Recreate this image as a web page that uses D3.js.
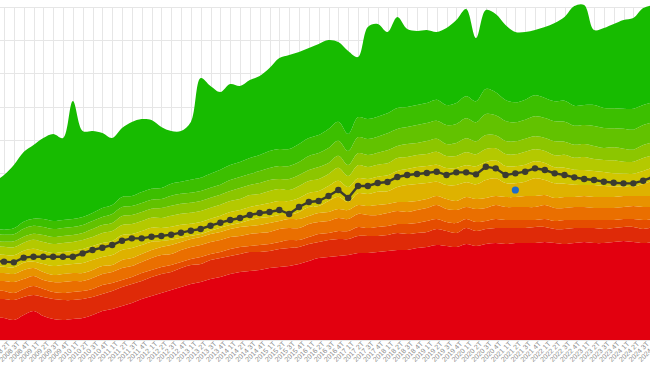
<!DOCTYPE html>
<meta charset="utf-8">
<style>
body { margin: 0; background: #fff; }
svg { display: block; font-family: "Open Sans", "DejaVu Sans", sans-serif; }
.grid line { stroke: #e6e6e6; shape-rendering: crispEdges; }
.grid path { stroke-width: 0; }
.xaxis path, .xaxis line { display: none; }
.xaxis text { font-size: 7px; fill: #8c8c8c; }
.line { fill: none; stroke: #3b3b30; stroke-width: 2.4px; }
</style>
<svg width="650" height="366"></svg>
<script src="https://d3js.org/d3.v7.min.js"></script>
<script>

// quarters 2008 1T .. 2024 4T
var years = d3.range(2008, 2025);
var quarters = [];
years.forEach(function(y) { [1, 2, 3, 4].forEach(function(q) { quarters.push(y + " " + q + "T"); }); });

var colors = ["#e2000f", "#df2a08", "#e54d00", "#ea6f00", "#e89200", "#deb200",
              "#d0c600", "#b4c900", "#8cc600", "#62c200", "#3cbf00", "#17bb00"];

var s0 = [6.6, 6.6, 6.0, 7.5, 8.7, 7.2, 6.3, 6.0, 6.3, 6.6,
  7.5, 8.7, 9.3, 10.2, 11.1, 12.3, 13.2, 14.1, 15.0, 15.9,
  16.8, 17.4, 18.3, 18.9, 19.8, 20.4, 20.7, 21.0, 21.6, 21.9,
  22.2, 22.8, 23.7, 24.6, 24.9, 25.2, 25.5, 26.1, 26.1, 26.4,
  26.7, 27.0, 27.0, 27.6, 27.9, 28.5, 28.2, 27.9, 28.8, 28.2,
  28.8, 29.1, 28.8, 29.1, 29.1, 29.1, 29.4, 29.1, 28.8, 29.1,
  29.4, 29.1, 29.1, 29.4, 29.7, 29.4, 29.1, 29.4];
var s1 = [5.7, 5.7, 6.0, 5.4, 4.8, 5.7, 6.0, 6.0, 5.7, 5.7,
  5.4, 5.1, 5.4, 5.7, 5.7, 5.4, 5.7, 5.7, 5.4, 5.7,
  5.7, 5.4, 5.7, 5.7, 5.4, 5.4, 5.7, 5.4, 5.1, 5.4,
  5.4, 5.1, 5.1, 4.8, 5.1, 5.1, 4.8, 5.1, 5.1, 4.8,
  4.8, 5.1, 4.8, 4.5, 4.5, 4.8, 4.5, 4.2, 4.8, 4.5,
  4.5, 4.5, 4.8, 4.5, 4.5, 4.8, 4.5, 4.2, 4.5, 4.5,
  4.2, 4.5, 4.2, 4.2, 4.2, 4.5, 4.2, 4.5];
var s2 = [2.4, 2.4, 2.1, 2.4, 2.7, 2.4, 2.1, 2.1, 2.4, 2.4,
  2.4, 2.7, 2.4, 2.1, 2.1, 2.4, 2.1, 2.1, 2.1, 1.8,
  1.8, 2.1, 1.8, 1.8, 2.1, 2.1, 1.8, 2.1, 2.1, 2.1,
  2.4, 2.1, 2.1, 2.4, 2.1, 2.4, 2.4, 2.7, 2.4, 2.7,
  2.7, 2.7, 3.0, 3.0, 3.3, 3.0, 2.7, 3.0, 2.7, 2.7,
  2.4, 2.7, 2.4, 2.4, 2.4, 2.1, 2.4, 2.4, 2.7, 2.4,
  2.4, 2.4, 2.7, 2.4, 2.4, 2.4, 2.7, 2.4];
var s3 = [3.0, 3.0, 3.3, 3.0, 3.0, 2.7, 3.0, 3.3, 3.3, 3.0,
  3.3, 3.3, 3.3, 3.6, 3.3, 3.3, 3.6, 3.6, 3.3, 3.6,
  3.6, 3.6, 3.6, 3.6, 3.6, 3.3, 3.6, 3.6, 3.6, 3.9,
  3.6, 3.6, 3.9, 3.6, 3.6, 3.9, 3.6, 3.9, 3.9, 3.6,
  3.9, 3.9, 3.6, 3.9, 3.9, 4.2, 3.9, 3.9, 3.6, 3.9,
  3.9, 4.2, 3.9, 3.9, 3.9, 3.9, 4.2, 3.9, 3.6, 3.9,
  3.9, 3.6, 3.6, 3.6, 3.6, 3.9, 3.9, 3.6];
var s4 = [2.4, 2.4, 2.4, 2.7, 2.4, 2.4, 2.1, 2.4, 2.4, 2.4,
  2.4, 2.4, 2.1, 2.4, 2.4, 2.4, 2.4, 2.4, 2.7, 2.4,
  2.4, 2.4, 2.4, 2.4, 2.4, 2.7, 2.4, 2.4, 2.7, 2.4,
  2.7, 2.7, 2.4, 2.7, 2.7, 2.7, 2.7, 2.7, 2.7, 3.0,
  2.7, 2.7, 3.0, 2.7, 2.7, 2.7, 3.0, 2.7, 3.0, 3.0,
  3.0, 2.7, 3.0, 3.0, 3.3, 3.3, 3.0, 3.0, 3.3, 3.0,
  3.3, 3.3, 3.3, 3.3, 3.3, 3.0, 3.3, 3.3];
var s5 = [2.1, 1.9, 2.0, 2.2, 1.9, 2.4, 2.7, 2.7, 2.7, 3.0,
  3.0, 2.7, 3.0, 3.0, 3.0, 2.7, 2.5, 1.8, 1.6, 1.3,
  1.0, 0.9, 1.0, 1.3, 1.2, 1.2, 1.8, 2.1, 1.8, 1.8,
  1.2, 2.1, 2.7, 2.1, 3.3, 3.7, 2.4, 3.5, 3.6, 4.0,
  3.8, 4.5, 5.1, 5.1, 4.8, 4.3, 4.2, 4.8, 4.4, 4.4,
  5.4, 5.3, 4.2, 4.1, 4.3, 5.3, 4.5, 4.4, 4.0, 3.7,
  3.3, 3.6, 3.3, 3.2, 2.8, 2.8, 3.6, 4.7];
var s6 = [3.6, 3.6, 3.6, 3.6, 3.9, 3.9, 3.9, 3.9, 3.9, 4.2,
  4.2, 4.2, 4.2, 4.5, 4.2, 4.2, 4.2, 3.9, 3.9, 3.9,
  3.6, 3.6, 3.6, 3.6, 3.9, 3.9, 3.9, 3.9, 4.2, 4.2,
  4.2, 4.2, 4.2, 4.5, 4.5, 4.8, 4.5, 4.5, 4.5, 4.5,
  4.8, 4.8, 4.8, 5.1, 5.1, 5.1, 5.1, 5.1, 5.1, 5.4,
  5.4, 5.4, 5.1, 5.1, 5.1, 5.1, 5.1, 4.8, 4.8, 4.5,
  4.5, 4.2, 4.2, 3.9, 3.9, 3.9, 3.9, 3.9];
var s7 = [2.4, 2.4, 2.4, 2.4, 2.7, 2.7, 2.7, 2.7, 2.7, 2.7,
  2.7, 3.0, 3.0, 3.0, 3.0, 3.0, 3.0, 3.0, 3.3, 3.3,
  3.3, 3.3, 3.3, 3.3, 3.3, 3.3, 3.6, 3.3, 3.6, 3.6,
  3.3, 3.6, 3.6, 3.6, 3.6, 3.9, 3.3, 3.9, 3.6, 3.6,
  3.6, 3.9, 3.6, 3.6, 3.6, 3.9, 3.6, 3.6, 3.9, 3.6,
  3.9, 3.6, 3.6, 3.6, 3.9, 3.6, 3.6, 3.6, 3.9, 3.6,
  3.9, 3.6, 3.6, 3.9, 3.6, 3.6, 3.9, 3.6];
var s8 = [1.5, 1.5, 1.8, 1.8, 1.8, 2.1, 2.1, 2.1, 2.1, 2.1,
  2.4, 2.4, 2.4, 2.7, 2.7, 2.7, 2.7, 3.0, 3.0, 3.0,
  3.0, 3.0, 3.0, 3.0, 3.0, 3.3, 3.0, 3.3, 3.3, 3.0,
  3.3, 3.3, 3.3, 3.6, 3.3, 3.6, 3.3, 3.6, 3.6, 3.6,
  3.9, 3.6, 3.9, 3.6, 3.9, 3.9, 3.6, 3.9, 4.2, 3.9,
  4.2, 3.9, 3.9, 3.9, 3.9, 3.9, 3.9, 4.2, 3.9, 3.9,
  3.9, 3.9, 3.6, 3.9, 3.9, 3.6, 3.9, 3.9];
var s9 = [2.1, 2.1, 2.1, 2.4, 2.4, 2.4, 2.4, 2.4, 2.4, 2.4,
  2.4, 2.4, 2.7, 2.7, 2.7, 2.7, 2.7, 2.7, 3.0, 3.0,
  3.0, 3.0, 3.0, 3.0, 3.3, 3.3, 3.3, 3.6, 3.6, 3.9,
  3.9, 3.9, 4.2, 4.2, 4.5, 4.5, 4.2, 4.8, 4.8, 4.8,
  5.1, 5.1, 5.1, 5.4, 5.4, 5.4, 5.7, 5.7, 6.0, 5.7,
  6.3, 6.0, 6.0, 5.7, 5.7, 6.0, 6.0, 6.0, 6.0, 5.7,
  5.7, 6.0, 6.0, 5.7, 6.0, 6.0, 6.0, 6.0];
var s10 = [1.5, 1.5, 1.8, 2.1, 2.1, 2.4, 2.4, 2.4, 2.4, 2.4,
  2.4, 2.7, 2.7, 3.0, 3.0, 3.3, 3.3, 3.3, 3.6, 3.6,
  3.9, 4.0, 4.2, 4.5, 4.5, 4.5, 4.8, 4.8, 5.1, 5.1,
  5.1, 5.4, 5.4, 5.4, 5.7, 5.7, 5.1, 6.0, 6.0, 6.0,
  6.0, 6.3, 6.0, 6.0, 6.0, 6.3, 6.0, 6.3, 6.6, 6.3,
  7.5, 6.9, 6.3, 6.0, 6.0, 6.3, 6.0, 6.0, 6.3, 6.0,
  6.0, 6.3, 6.0, 6.0, 6.0, 6.3, 6.0, 6.0];
// stacked total (top of the last band); the last band is the rest
var total = [47.4, 49.5, 52.5, 56.4, 58.5, 60.6, 61.8, 60.6, 71.7, 62.7,
  62.7, 62.1, 60.6, 63.6, 65.4, 66.3, 66.0, 63.9, 62.7, 62.7,
  65.4, 78.6, 76.2, 74.4, 76.8, 76.2, 78.0, 79.2, 81.6, 84.6,
  85.5, 86.4, 87.6, 88.8, 90.0, 89.4, 86.7, 84.9, 93.9, 94.8,
  92.4, 96.9, 93.3, 92.7, 93.0, 92.4, 93.6, 96.0, 99.3, 90.6,
  99.0, 97.8, 94.5, 92.4, 92.4, 93.0, 93.9, 95.1, 96.9, 100.2,
  100.5, 93.0, 93.6, 94.8, 96.0, 96.6, 99.6, 100.5];

var index = [23.7, 23.5, 23.3, 24.7, 25.0, 25.0, 25.0, 25.0, 25.0, 26.0,
  27.0, 27.7, 28.5, 29.8, 30.5, 30.5, 31.0, 31.2, 31.6, 32.2,
  32.8, 33.3, 34.3, 35.2, 36.0, 36.6, 37.5, 38.1, 38.4, 39.0,
  37.8, 39.9, 41.4, 41.7, 43.2, 45.0, 42.6, 46.2, 46.2, 47.1,
  47.4, 48.9, 49.5, 49.8, 50.1, 50.5, 49.5, 50.3, 50.3, 49.7,
  52.0, 51.5, 49.5, 50.0, 50.5, 51.5, 51.0, 50.0, 49.5, 48.8,
  48.3, 48.0, 47.5, 47.2, 47.0, 47.0, 47.8, 48.9];

var markerQuarter = "2021 2T";
var markerValue = 45.0;

var layers = [s0, s1, s2, s3, s4, s5, s6, s7, s8, s9, s10];

var svg = d3.select("svg"),
    width = +svg.attr("width"),
    height = +svg.attr("height");

var x = d3.scalePoint().domain(quarters).range([-5.83, 653]);
var y = d3.scaleLinear().domain([0, 100]).range([340, 6.7]);

var keys = d3.range(layers.length + 1).map(function(k) { return "s" + k; });
var rows = quarters.map(function(q, i) {
  var r = { q: q }, sum = 0;
  layers.forEach(function(s, k) { r["s" + k] = s[i]; sum += s[i]; });
  r["s" + layers.length] = Math.max(0, total[i] - sum);
  return r;
});

var series = d3.stack().keys(keys)(rows);

// grid
svg.append("g")
  .attr("class", "grid")
  .attr("transform", "translate(0,340)")
  .call(d3.axisBottom(x).tickSize(-(340 - 6.7)).tickFormat(""));

svg.append("g")
  .attr("class", "grid")
  .call(d3.axisLeft(y).ticks(10).tickSize(-width * 2).tickFormat(""));

var area = d3.area()
  .x(function(d) { return x(d.data.q); })
  .y0(function(d) { return y(d[0]); })
  .y1(function(d) { return y(d[1]); })
  .curve(d3.curveCatmullRom);

svg.append("g").selectAll("path")
  .data(series)
  .enter().append("path")
  .attr("fill", function(d, i) { return colors[i]; })
  .attr("d", area);

// index line
var valueline = d3.line()
  .x(function(d, i) { return x(quarters[i]); })
  .y(function(d) { return y(d); });

svg.append("path")
  .datum(index)
  .attr("class", "line")
  .attr("d", valueline);

svg.append("g").selectAll("circle")
  .data(index)
  .enter().append("circle")
  .attr("cx", function(d, i) { return x(quarters[i]); })
  .attr("cy", function(d) { return y(d); })
  .attr("r", 3.2)
  .attr("fill", "#3b3b30");

svg.append("circle")
  .attr("cx", x(markerQuarter))
  .attr("cy", y(markerValue))
  .attr("r", 3.6)
  .attr("fill", "#1f6cc8");

// x axis labels
svg.append("g")
  .attr("class", "xaxis")
  .attr("transform", "translate(0,341)")
  .call(d3.axisBottom(x).tickSize(0))
  .selectAll("text")
  .attr("text-anchor", "end")
  .attr("x", 2)
  .attr("y", 4)
  .attr("dy", "0.35em")
  .attr("transform", "rotate(-45)");

</script>
